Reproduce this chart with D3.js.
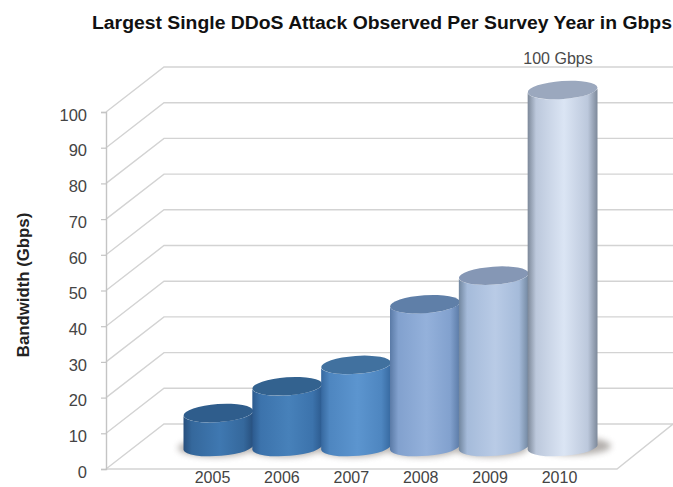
<!DOCTYPE html>
<html>
<head>
<meta charset="utf-8">
<script src="https://cdn.jsdelivr.net/npm/d3@7/dist/d3.min.js"></script>
<style>
html,body{margin:0;padding:0;background:#fff}
svg{display:block}
text{font-family:"Liberation Sans",Arial,sans-serif}
</style>
</head>
<body>
<div id="chart"></div>
<script>
const years = ["2005","2006","2007","2008","2009","2010"];
const gbps = [9.5,17,23,40,48,100];
const yTicks = [0,10,20,30,40,50,60,70,80,90,100];
const chartTitle = "Largest Single DDoS Attack Observed Per Survey Year in Gbps";
const yTitle = "Bandwidth (Gbps)";
const peakLabel = "100 Gbps";

// edge, mid, centre shades of each cylinder and the shade of its top cap
const bodyEdge = ["#274f7d","#2c5a8e","#36689f","#5a7aa6","#71869f","#7c8899"];
const bodyMid = ["#35689c","#3c73ac","#4e86c0","#82a1ce","#a5bbda","#bcc8dc"];
const bodyCentre = ["#3f78b1","#4781ba","#5c95cf","#94b1db","#b9cbe6","#dbe5f4"];
const capFill = ["#2f5d8c","#33628f","#41719f","#5f7fa8","#8597b5","#9ba8be"];

const W = 673, H = 487;
const svg = d3.select("#chart").append("svg").attr("width",W).attr("height",H);
const defs = svg.append("defs");

// Front edge of the wall; the back wall sits up and to the right of it.
const y = d3.scaleLinear().domain([0,100]).range([469,112]);
const axisX = 106, depthX = 58, depthY = -45, backEnd = 673, floorEnd = 617;

// Base plane of the cylinders, between the front and back of the floor.
const yBar = d3.scaleLinear().domain([0,100]).range([447,90]);
const x = d3.scaleBand().domain(years).range([184,597]).padding(0);
const xLabel = d3.scalePoint().domain(years).range([212,559]);

const line = d3.line();
const wall = svg.append("g").attr("fill","none").attr("stroke","#d3d3d3").attr("stroke-width",1.4);

wall.selectAll("path.grid").data(yTicks.slice(1)).join("path").attr("class","grid")
  .attr("d", v => line([[axisX,y(v)],[axisX+depthX,y(v)+depthY],[backEnd,y(v)+depthY]]));

// Floor outline
wall.append("path").attr("d", line([[axisX,y(0)],[axisX+depthX,y(0)+depthY],[backEnd,y(0)+depthY]]));
wall.append("path").attr("d", line([[axisX,y(0)],[floorEnd,y(0)],[backEnd,y(0)+depthY]]));

// Left axis with its ticks and labels
const axis = svg.append("g").attr("transform",`translate(${axisX},0)`)
  .call(d3.axisLeft(y).tickValues(yTicks).tickSize(5).tickPadding(14).tickFormat(d3.format("d")));
axis.select(".domain").attr("stroke","#c4c4c4").attr("stroke-width",1.4);
axis.selectAll(".tick line").attr("stroke","#c4c4c4").attr("stroke-width",1.2);
axis.selectAll("text").attr("font-size",16.5).attr("fill","#444").attr("dy","0.5em")
  .attr("font-family","'Liberation Sans',Arial,sans-serif");

// Year labels
const xAxis = svg.append("g").attr("transform","translate(0,469)")
  .call(d3.axisBottom(xLabel).tickSize(0).tickPadding(3));
xAxis.select(".domain").remove();
xAxis.selectAll("text").attr("font-size",16).attr("fill","#444")
  .attr("font-family","'Liberation Sans',Arial,sans-serif");

// Soft shadow on the floor
const blur = defs.append("filter").attr("id","floorShadow")
  .attr("x","-30%").attr("y","-100%").attr("width","160%").attr("height","300%");
blur.append("feGaussianBlur").attr("stdDeviation",3.2);
svg.append("g").attr("filter","url(#floorShadow)").attr("fill","#8a8480").attr("opacity",.65)
  .selectAll("ellipse").data(years).join("ellipse")
  .attr("cx", d => x(d)+x.bandwidth()/2+(d==="2010"?11:-3))
  .attr("cy", d => d==="2010"?446:448).attr("rx", x.bandwidth()/2+3).attr("ry",9);

// Horizontal shading that gives each cylinder its roundness
years.forEach((yr,i) => {
  const g = defs.append("linearGradient").attr("id","body"+yr)
    .attr("x1","0%").attr("x2","100%").attr("y1","0%").attr("y2","0%");
  [[0,bodyEdge[i]],[.12,bodyMid[i]],[.52,bodyCentre[i]],[.86,bodyMid[i]],[1,bodyEdge[i]]]
    .forEach(([o,c]) => g.append("stop").attr("offset",o).attr("stop-color",c));
});

const overlap = 0.5, ry = 9, tilt = 3;
const bars = svg.append("g").selectAll("g").data(years).join("g");

function bodyPath(d,i){
  const cx = x(d)+x.bandwidth()/2, rx = x.bandwidth()/2+overlap;
  const b = yBar(0), t = yBar(gbps[i]);
  return `M${cx-rx},${t+tilt}L${cx-rx},${b+tilt}A${rx},${ry} -4 0 0 ${cx+rx},${b-tilt}L${cx+rx},${t-tilt}A${rx},${ry} -4 0 1 ${cx-rx},${t+tilt}Z`;
}
bars.append("path").attr("d",bodyPath).attr("fill",d => `url(#body${d})`);
bars.append("ellipse")
  .attr("cx",0).attr("cy",0)
  .attr("rx",x.bandwidth()/2+overlap).attr("ry",ry)
  .attr("transform",(d,i) => `translate(${x(d)+x.bandwidth()/2},${yBar(gbps[i])}) rotate(-4)`)
  .attr("fill",(d,i) => capFill[i]);

// Titles and the value callout
svg.append("text").attr("transform","translate(92,29) scale(1.1,1)").attr("font-size",17.6)
  .attr("font-weight","bold").attr("fill","#111").text(chartTitle);
svg.append("text").attr("transform","translate(28.5,285) rotate(-90)").attr("text-anchor","middle")
  .attr("font-size",16.8).attr("font-weight","bold").attr("fill","#222").text(yTitle);
svg.append("text").attr("x",558).attr("y",64).attr("text-anchor","middle")
  .attr("font-size",16).attr("fill","#4a4a4a").text(peakLabel);
</script>
</body>
</html>
